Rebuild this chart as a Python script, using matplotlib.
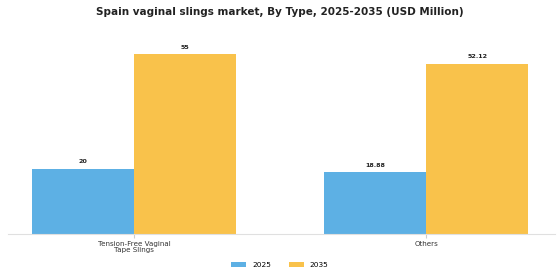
import matplotlib
matplotlib.use("Agg")
import matplotlib.pyplot as plt
import numpy as np

categories = ["Tension-Free Vaginal\nTape Slings", "Others"]
years = ["2025", "2035"]
values_2025 = [20, 18.88]
values_2035 = [55, 52.12]
labels_2025 = ["20", "18.88"]
labels_2035 = ["55", "52.12"]
colors = ["#5DB0E4", "#F9C24B"]

fig = plt.figure(figsize=(5.6, 2.8), dpi=100)
ax = fig.add_axes([8/560, 46/280, 547/560, 196/280])

x = np.arange(len(categories))
w = 0.35
b1 = ax.bar(x - w/2, values_2025, w, color=colors[0], label=years[0])
b2 = ax.bar(x + w/2, values_2035, w, color=colors[1], label=years[1])
for bars, labs in ((b1, labels_2025), (b2, labels_2035)):
    for r, t in zip(bars, labs):
        ax.text(r.get_x() + r.get_width()/2, r.get_height() + 1.4, t,
                ha="center", va="bottom", fontsize=4.6, fontweight="bold", color="#222222")

ax.set_xlim(-0.432, 1.441)
ax.set_ylim(0, 60)
ax.set_xticks(x)
ax.set_xticklabels(categories, fontsize=5.1, color="#333333", linespacing=1.0)
ax.tick_params(axis="x", length=3, color="#cccccc", pad=2)
ax.set_yticks([])
for s in ("top", "right", "left"):
    ax.spines[s].set_visible(False)
ax.spines["bottom"].set_color("#e0e0e0")
ax.spines["bottom"].set_linewidth(0.8)

fig.suptitle("Spain vaginal slings market, By Type, 2025-2035 (USD Million)",
             fontsize=7.5, fontweight="bold", color="#222222", y=0.975)
fig.legend(handles=[b1, b2], labels=years, loc="center", bbox_to_anchor=(0.5, 0.053),
           ncol=2, frameon=False, fontsize=5.3, handlelength=2.0, handleheight=0.5,
           columnspacing=2.5, handletextpad=0.8)
fig.savefig("out.png", dpi=100, facecolor="white")
